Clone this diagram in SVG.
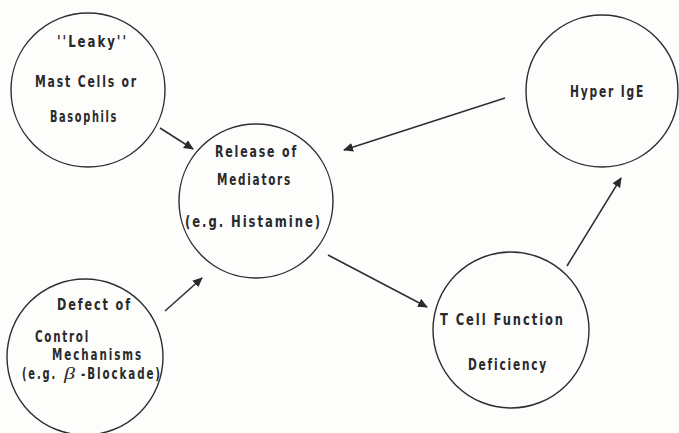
<svg xmlns="http://www.w3.org/2000/svg" width="679" height="433" viewBox="0 0 679 433">
<defs>
<marker id="ah" viewBox="0 0 10 10" refX="9" refY="5" markerWidth="10" markerHeight="10" markerUnits="userSpaceOnUse" orient="auto">
<path d="M0,0.5 L10,5 L0,9.5 Z" fill="#2a2a2a"/>
</marker>
<style>
.n{fill:none;stroke:#2e2e2e;stroke-width:1.4}
.t{font-family:"DejaVu Sans Condensed","Liberation Sans Narrow","Liberation Sans",sans-serif;font-size:16.5px;font-weight:bold;fill:#2a2a2a;letter-spacing:2.5px}
.s{font-size:15px}
.b{font-family:"Liberation Serif",serif;font-style:italic;font-size:16px;fill:#2a2a2a}
.c{stroke:#2e2e2e;stroke-width:1.5;fill:none;marker-end:url(#ah)}
</style>
</defs>
<rect width="679" height="433" fill="#fdfdfc"/>
<g id="leaky">
<circle class="n" cx="88" cy="90" r="77"/>
<text class="t" x="57" y="47" textLength="71" lengthAdjust="spacingAndGlyphs">''Leaky''</text>
<text class="t" x="35" y="87" textLength="103" lengthAdjust="spacingAndGlyphs">Mast Cells or</text>
<text class="t" x="50" y="122" textLength="68" lengthAdjust="spacingAndGlyphs">Basophils</text>
</g>
<g id="release">
<circle class="n" cx="256" cy="201" r="77"/>
<text class="t" x="215" y="157" textLength="83" lengthAdjust="spacingAndGlyphs">Release of</text>
<text class="t" x="217" y="185" textLength="75" lengthAdjust="spacingAndGlyphs">Mediators</text>
<text class="t" x="185" y="227" textLength="137" lengthAdjust="spacingAndGlyphs">(e.g. Histamine)</text>
</g>
<g id="defect">
<circle class="n" cx="85" cy="357" r="78"/>
<text class="t" x="57" y="310" textLength="75" lengthAdjust="spacingAndGlyphs">Defect of</text>
<text class="t" x="35" y="342" textLength="55" lengthAdjust="spacingAndGlyphs">Control</text>
<text class="t s" x="52" y="360" textLength="91" lengthAdjust="spacingAndGlyphs">Mechanisms</text>
<text class="t s" x="22" y="379" textLength="35" lengthAdjust="spacingAndGlyphs">(e.g.</text>
<text class="b" x="64" y="379" textLength="11" lengthAdjust="spacingAndGlyphs">β</text>
<text class="t s" x="81" y="379" textLength="81" lengthAdjust="spacingAndGlyphs">-Blockade)</text>
</g>
<g id="tcell">
<circle class="n" cx="511" cy="330" r="78"/>
<text class="t" x="440" y="325" textLength="125" lengthAdjust="spacingAndGlyphs">T Cell Function</text>
<text class="t" x="468" y="370" textLength="80" lengthAdjust="spacingAndGlyphs">Deficiency</text>
</g>
<g id="hyper">
<circle class="n" cx="602" cy="91" r="76"/>
<text class="t" x="570" y="97" textLength="75" lengthAdjust="spacingAndGlyphs">Hyper IgE</text>
</g>
<g id="connectors">
<line class="c" x1="160" y1="128" x2="193" y2="149"/>
<line class="c" x1="505" y1="98" x2="344" y2="150"/>
<line class="c" x1="165" y1="311" x2="202" y2="278"/>
<line class="c" x1="328" y1="255" x2="427" y2="307"/>
<line class="c" x1="567" y1="266" x2="621" y2="178"/>
</g>
</svg>
